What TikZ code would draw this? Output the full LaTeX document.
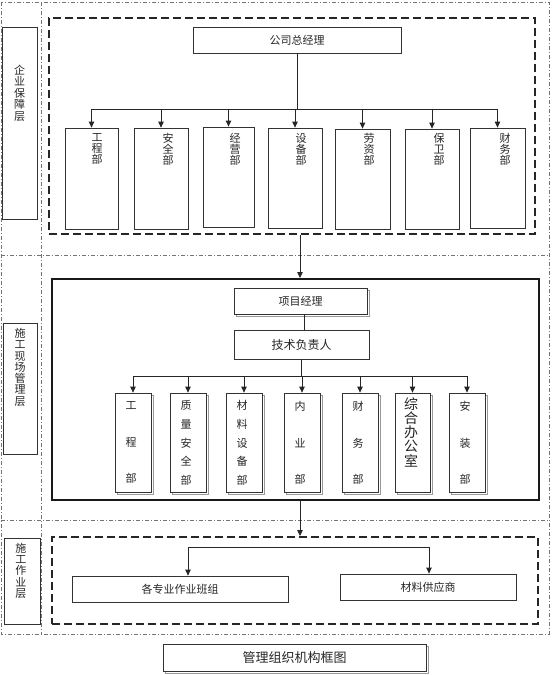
\documentclass[tikz,border=0pt]{standalone}
\usepackage{fontspec}
\newfontfamily\cjk{Noto Sans CJK SC}
\usetikzlibrary{arrows.meta,fit,shadows}
\begin{document}
\begin{tikzpicture}[x=1pt,y=-1pt,
  every node/.style={font=\cjk\fontsize{11}{11}\selectfont, text=black!85},
  frame/.style={draw=black!55, line width=0.8pt, dash pattern=on 4pt off 2pt on 1pt off 2pt},
  dbox/.style={draw=black!85, line width=2pt, dash pattern=on 8pt off 4pt, inner sep=0pt},
  box/.style={draw=black!80, line width=0.8pt, fill=white, inner sep=0pt},
  sbox/.style={box, copy shadow={shadow xshift=2pt, shadow yshift=-2pt, draw=black!40, fill=white, line width=0.8pt}},
  conn/.style={draw=black!85, line width=0.8pt},
  arr/.style={conn, -{Triangle[length=6pt,width=5.5pt]}},
  vt/.style={align=center, inner sep=0pt, anchor=north},
  ct/.style={inner sep=0pt, anchor=center},
]
\useasboundingbox (0,0) rectangle (554,675);
\fill[white] (0,0) rectangle (554,675);

% outer dash-dot frame and layer dividers
\draw[frame] (1,2) rectangle (549,634);
\draw[frame] (41,2) -- (41,634);
\draw[frame] (1,255) -- (549,255);
\draw[frame] (1,520) -- (549,520);

% layer labels
\node[box, fit={(2,27)(37,219)}] (lab1) {};
\node[vt, font=\cjk\fontsize{11}{11.4}\selectfont] (lab1t) at (19.5,65) {企\\业\\保\\障\\层};
\node[box, fit={(3.5,323)(37,454)}] (lab2) {};
\node[vt, font=\cjk\fontsize{11}{11.3}\selectfont] (lab2t) at (20,328) {施\\工\\现\\场\\管\\理\\层};
\node[box, fit={(4,538)(40,624)}] (lab3) {};
\node[vt, font=\cjk\fontsize{11}{11.2}\selectfont] (lab3t) at (21,543) {施\\工\\作\\业\\层};

% ---------- top layer ----------
\node[dbox, fit={(49,18)(535,234)}] (top) {};
\node[box, fit={(193,27)(401,53)}] (ceo) {};
\node[ct] (ceot) at (ceo.center) {公司总经理};

\node[box, fit={(65,128)(118,229)}] (t1) {};
\node[box, fit={(134,128)(188,229)}] (t2) {};
\node[box, fit={(203,127)(254,227)}] (t3) {};
\node[box, fit={(268,128)(322,228)}] (t4) {};
\node[box, fit={(335,129)(390,229)}] (t5) {};
\node[box, fit={(405,129)(459,229)}] (t6) {};
\node[box, fit={(470,128)(525,228)}] (t7) {};

\node[vt] (t1t) at (97,133) {工\\程\\部};
\node[vt] (t2t) at (168,133) {安\\全\\部};
\node[vt] (t3t) at (235,133) {经\\营\\部};
\node[vt] (t4t) at (301,133) {设\\备\\部};
\node[vt] (t5t) at (369,133) {劳\\资\\部};
\node[vt] (t6t) at (439,133) {保\\卫\\部};
\node[vt] (t7t) at (505,133) {财\\务\\部};

\coordinate (tb) at (0,109);
\draw[conn] (ceo.south) -- (ceo.south |- tb);
\draw[conn] (t1.north |- tb) -- (t7.north |- tb);
\foreach \n in {t1,t2,t3,t4,t5,t6,t7}
  \draw[arr] (\n.north |- tb) -- (\n.north);

% ---------- middle layer ----------
\node[box, draw=black!90, line width=2pt, fit={(52,279)(539,500)}] (mid) {};
\coordinate (cx) at (300,0);
\draw[arr] (cx |- top.south) -- (cx |- mid.north);

\node[sbox, fit={(234,288)(367,314)}] (pm) {};
\node[ct] (pmt) at (pm.center) {项目经理};
\node[box, fit={(234,330)(369,359)}] (tech) {};
\node[ct, font=\cjk\fontsize{12}{12}\selectfont] (techt) at (tech.center) {技术负责人};
\coordinate (cx2) at (304,0);
\draw[conn] (cx2 |- pm.south) -- (cx2 |- tech.north);

\node[sbox, fit={(115,393)(151,492)}] (m1) {};
\node[sbox, fit={(170,393)(206,492)}] (m2) {};
\node[sbox, fit={(226,393)(262,492)}] (m3) {};
\node[sbox, fit={(284,393)(320,492)}] (m4) {};
\node[sbox, fit={(342,393)(378,492)}] (m5) {};
\node[sbox, fit={(395,393)(430,492)}] (m6) {};
\node[sbox, fit={(449,393)(485,492)}] (m7) {};

\node[vt, font=\cjk\fontsize{11}{36.5}\selectfont] (m1t) at (131,401.5) {工\\程\\部};
\node[vt, font=\cjk\fontsize{11}{18.6}\selectfont] (m2t) at (186,400.5) {质\\量\\安\\全\\部};
\node[vt, font=\cjk\fontsize{11}{18.6}\selectfont] (m3t) at (242,400.5) {材\\料\\设\\备\\部};
\node[vt, font=\cjk\fontsize{11}{36.5}\selectfont] (m4t) at (300,401.5) {内\\业\\部};
\node[vt, font=\cjk\fontsize{11}{36.5}\selectfont] (m5t) at (358,401.5) {财\\务\\部};
\node[vt, font=\cjk\fontsize{14}{14.3}\selectfont] (m6t) at (411,397) {综\\合\\办\\公\\室};
\node[vt, font=\cjk\fontsize{11}{36.5}\selectfont] (m7t) at (465,401.5) {安\\装\\部};

\coordinate (mb) at (0,376);
\draw[conn] (tech.south) -- (tech.south |- mb);
\draw[conn] (m1.north |- mb) -- (m7.north |- mb);
\foreach \n in {m1,m2,m3,m4,m5,m6,m7}
  \draw[arr] (\n.north |- mb) -- (\n.north);

% ---------- bottom layer ----------
\node[dbox, fit={(52,537)(538,624)}] (bot) {};
\draw[arr] (cx |- mid.south) -- (cx |- bot.north);

\node[box, fit={(72,576)(288,602)}] (g1) {};
\node[ct] (g1t) at (g1.center) {各专业作业班组};
\node[box, fit={(340,574)(516,600)}] (g2) {};
\node[ct] (g2t) at (g2.center) {材料供应商};
\coordinate (ba) at (188,547);
\coordinate (bb) at (429,547);
\draw[conn] (ba) -- (bb);
\draw[arr] (ba) -- (ba |- g1.north);
\draw[arr] (bb) -- (bb |- g2.north);

% ---------- title ----------
\node[sbox, fit={(163,644)(426,671)}] (title) {};
\node[ct, font=\cjk\fontsize{13}{13}\selectfont] (titlet) at (title.center) {管理组织机构框图};
\end{tikzpicture}
\end{document}
